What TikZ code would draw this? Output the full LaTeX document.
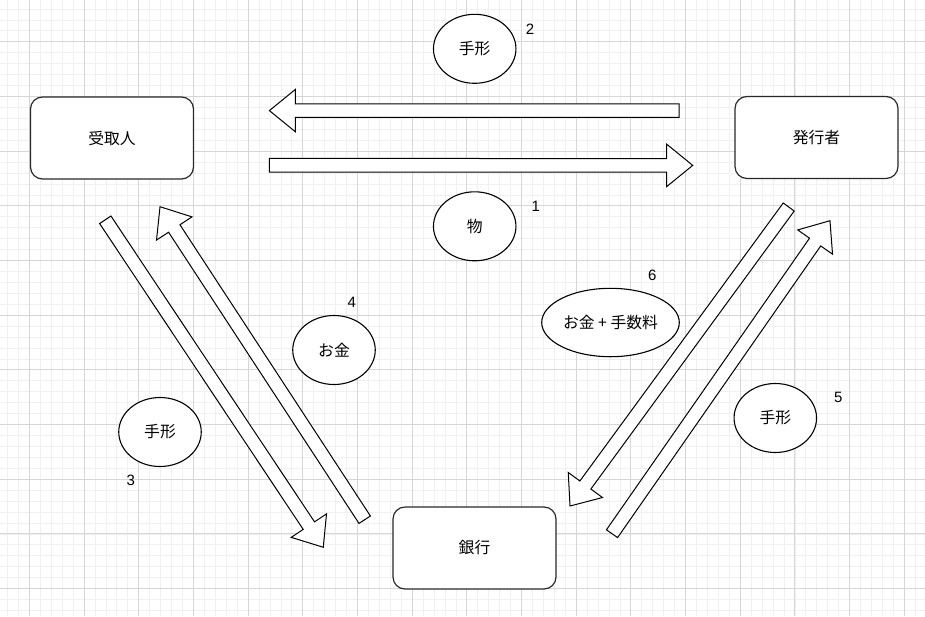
\documentclass[tikz,border=0pt]{standalone}
\usepackage{fontspec}
\setmainfont{Liberation Sans}
\newfontfamily\jp{Noto Sans CJK JP}
\usetikzlibrary{calc,shapes.geometric}
\definecolor{minorgrid}{HTML}{F0F0F0}
\definecolor{majorgrid}{HTML}{D6D6D6}
\definecolor{ink}{HTML}{111111}
\tikzset{
  party/.style={draw=ink!90, line width=1.2pt, fill=white, rounded corners=12pt,
    minimum width=163pt, minimum height=82pt, inner sep=0pt, font=\jp\fontsize{15.8}{18}\selectfont},
  item/.style={ellipse, draw=black, line width=1.1pt, fill=white, minimum width=82.5pt,
    minimum height=69pt, inner sep=0pt, font=\jp\fontsize{15.8}{18}\selectfont},
  num/.style={inner sep=0pt, font=\fontsize{15}{17}\selectfont},
  blockarrowstyle/.style={draw=black, line width=1pt, fill=white, line join=miter},
}
\newcommand{\blockarrow}[2]{%
  \path let \p1=($(#2)-(#1)$), \n1={atan2(\y1,\x1)}, \n2={veclen(\x1,\y1)} in
    \pgfextra{\pgfmathsetmacro\tmpang{\n1}\xdef\arrang{\tmpang}%
              \pgfmathsetmacro\tmplen{\n2}\xdef\arrlen{\tmplen}};
  \draw[blockarrowstyle, shift={(#1)}, rotate=\arrang]
    (0pt,6.8pt) -- ({\arrlen pt-26pt},6.8pt) -- ({\arrlen pt-26pt},21.2pt)
    -- ({\arrlen pt},0pt) -- ({\arrlen pt-26pt},-21.2pt) -- ({\arrlen pt-26pt},-6.8pt)
    -- (0pt,-6.8pt) -- cycle;
}
\begin{document}
\begin{tikzpicture}[x=1pt,y=-1pt]
\useasboundingbox (0,0) rectangle (925,616);
\fill[white] (0,0) rectangle (925,616);
% grid
\foreach \k in {0,...,84} {
  \draw[minorgrid, line width=0.6pt] ({7.43+\k*10.936},0) -- ({7.43+\k*10.936},616);
}
\foreach \k in {0,...,56} {
  \draw[minorgrid, line width=0.6pt] (0,{8.89+\k*10.936}) -- (925,{8.89+\k*10.936});
}
\foreach \k in {-1,...,17} {
  \draw[majorgrid, line width=0.8pt] ({29.3+\k*54.68},0) -- ({29.3+\k*54.68},616);
}
\foreach \k in {-1,...,11} {
  \draw[majorgrid, line width=0.8pt] (0,{41.7+\k*54.68}) -- (925,{41.7+\k*54.68});
}
% parties
\node[party] (uke) at (112,138) {受取人};
\node[party] (hakko) at (816.5,137.5) {発行者};
\node[party] (ginko) at (474.5,548) {銀行};
% arrow end points
\coordinate (a2t) at (679,110.6);  \coordinate (a2h) at (269.4,110.6);
\coordinate (a1t) at (269.3,165.2); \coordinate (a1h) at (692.7,165.4);
\coordinate (a3t) at (105.3,219.8); \coordinate (a3h) at (323.3,547.3);
\coordinate (a4t) at (364.7,519.7); \coordinate (a4h) at (160,206.7);
\coordinate (a6t) at (788.7,207);   \coordinate (a6h) at (570,506);
\coordinate (a5t) at (612,533.7);   \coordinate (a5h) at (830,220.7);
\blockarrow{a2t}{a2h}
\blockarrow{a1t}{a1h}
\blockarrow{a3t}{a3h}
\blockarrow{a4t}{a4h}
\blockarrow{a6t}{a6h}
\blockarrow{a5t}{a5h}
% items
\node[item] (e2) at (474.7,48.8) {手形};
\node[item] (e1) at (474.7,226.3) {物};
\node[item] (e4) at (334,350) {お金};
\node[item] (e3) at (160,432) {手形};
\node[item, minimum width=137.6pt, minimum height=68.4pt] (e6) at (610.5,322.5) {お金 + 手数料};
\node[item] (e5) at (775.3,418) {手形};
% numbers
\node[num] (n2) at (530,29) {2};
\node[num] (n1) at (535.7,206) {1};
\node[num] (n4) at (351.7,302.5) {4};
\node[num] (n3) at (130.7,480) {3};
\node[num] (n6) at (652.3,275) {6};
\node[num] (n5) at (838.3,397.3) {5};
\end{tikzpicture}
\end{document}
